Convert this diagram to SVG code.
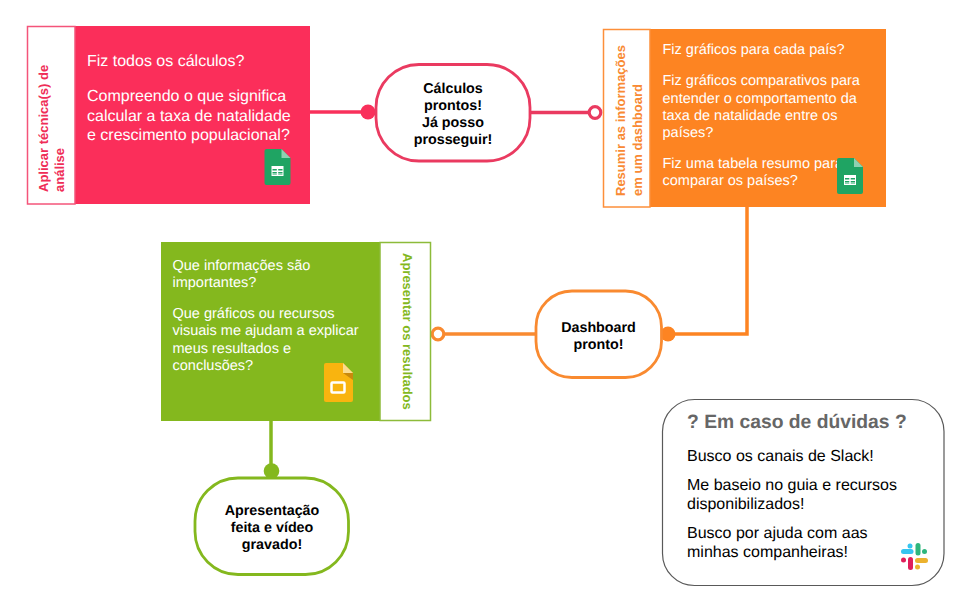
<svg xmlns="http://www.w3.org/2000/svg" width="978" height="608" viewBox="0 0 978 608">
<style>
text{font-family:"Liberation Sans",Arial,sans-serif;text-rendering:geometricPrecision}
.w16{font-size:16px;fill:#fff}
.w14{font-size:14.500px;fill:#fff}
.pill{font-size:14.300px;font-weight:bold;fill:#000;text-anchor:middle}
.side{font-size:13px;font-weight:bold}
.d{font-size:16px;fill:#000}
.line{fill:none;stroke-width:3.500}
</style>
<defs>
<g id="sheets">
<path d="M2 0H17L26 9V34a2 2 0 0 1-2 2H2a2 2 0 0 1-2-2V2a2 2 0 0 1 2-2Z" fill="#1fa463"/>
<path d="M17 0L26 9H17Z" fill="#8ed1b1"/>
<path d="M7 17H19V27H7Z" fill="#fff"/>
<path d="M8 20H12.300V21.500H8ZM13.700 20H18V21.500H13.700ZM8 23H12.300V24.500H8ZM13.700 23H18V24.500H13.700ZM8 25.500H12.300V26H8ZM13.700 25.500H18V26H13.700Z" fill="#1fa463"/>
</g>
</defs>
<rect width="978" height="608" fill="#fff"/>
<g id="connectors">
<path class="line" d="M310 112H376" stroke="#f9305b"/>
<path class="line" d="M530 112.500H595" stroke="#ea3a60"/>
<path class="line" d="M747 207V334H662" stroke="#fd8422"/>
<path class="line" d="M536 334H438" stroke="#f98a30"/>
<path class="line" d="M271 421V471" stroke="#84b81e"/>
<circle cx="368" cy="112" r="7.500" fill="#f9305b"/>
<circle cx="595" cy="112.500" r="5.800" fill="#fff" stroke="#ea3a60" stroke-width="3.200"/>
<circle cx="668" cy="334" r="7.500" fill="#fd8422"/>
<circle cx="438" cy="334" r="5.800" fill="#fff" stroke="#f98a30" stroke-width="3.200"/>
<circle cx="271.500" cy="471" r="7.800" fill="#84b81e"/>
</g>
<g id="node-analise">
<rect x="75" y="26" width="235" height="178" fill="#fb2e5a"/>
<rect x="27.500" y="26.500" width="47.500" height="177.500" fill="#fff" stroke="#f4547a" stroke-width="1.500"/>
<text class="side" fill="#ef2d57" transform="translate(48,192) rotate(-90)">Aplicar técnica(s) de</text>
<text class="side" fill="#ef2d57" transform="translate(64,192) rotate(-90)">análise</text>
<text class="w16" x="87" y="66">Fiz todos os cálculos?</text>
<text class="w16" x="87" y="101">Compreendo o que significa</text>
<text class="w16" x="87" y="121">calcular a taxa de natalidade</text>
<text class="w16" x="87" y="140">e crescimento populacional?</text>
<use href="#sheets" x="264.500" y="149"/>
</g>
<g id="node-calculos">
<rect x="376" y="64.500" width="154" height="96.500" rx="43" fill="#fff" stroke="#ea3a60" stroke-width="2.800"/>
<text class="pill" x="453" y="93">Cálculos</text>
<text class="pill" x="453" y="110">prontos!</text>
<text class="pill" x="453" y="127">Já posso</text>
<text class="pill" x="453" y="144">prosseguir!</text>
</g>
<g id="node-dashboard">
<rect x="650" y="29" width="236" height="178" fill="#fd8422"/>
<rect x="603.500" y="29.500" width="46.500" height="177.500" fill="#fff" stroke="#fd8f3a" stroke-width="1.500"/>
<text class="side" fill="#f98a34" transform="translate(625,196) rotate(-90)">Resumir as informações</text>
<text class="side" fill="#f98a34" transform="translate(642,196) rotate(-90)">em um dashboard</text>
<text class="w14" x="662.500" y="54">Fiz gráficos para cada país?</text>
<text class="w14" x="662.500" y="85">Fiz gráficos comparativos para</text>
<text class="w14" x="662.500" y="102.500">entender o comportamento da</text>
<text class="w14" x="662.500" y="120">taxa de natalidade entre os</text>
<text class="w14" x="662.500" y="137">países?</text>
<text class="w14" x="662.500" y="168">Fiz uma tabela resumo para</text>
<text class="w14" x="662.500" y="185">comparar os países?</text>
<use href="#sheets" x="837" y="158"/>
</g>
<g id="node-pronto">
<rect x="536" y="291" width="125.500" height="86.500" rx="36" fill="#fff" stroke="#f98a30" stroke-width="2.800"/>
<text class="pill" x="598.500" y="332">Dashboard</text>
<text class="pill" x="598.500" y="349">pronto!</text>
</g>
<g id="node-apresentar">
<rect x="161" y="242" width="219" height="179" fill="#84b81e"/>
<rect x="380" y="242.500" width="50.500" height="178" fill="#fff" stroke="#8dbb3a" stroke-width="1.500"/>
<text class="side" fill="#84b81e" transform="translate(402.500,253) rotate(90)">Apresentar os resultados</text>
<text class="w14" x="172.500" y="270">Que informações são</text>
<text class="w14" x="172.500" y="287">importantes?</text>
<text class="w14" x="172.500" y="318">Que gráficos ou recursos</text>
<text class="w14" x="172.500" y="335">visuais me ajudam a explicar</text>
<text class="w14" x="172.500" y="353">meus resultados e</text>
<text class="w14" x="172.500" y="370">conclusões?</text>
<path d="M326 363H343L353 373V400a2 2 0 0 1-2 2H326a2 2 0 0 1-2-2V365a2 2 0 0 1 2-2Z" fill="#f9b40f"/>
<path d="M343 363L353 373H343Z" fill="#fbdc8e"/>
<path d="M343 373H353V380Z" fill="#c98a0c"/>
<rect x="331.500" y="382.500" width="13" height="10" rx="1" fill="none" stroke="#fff" stroke-width="2.500"/>
</g>
<g id="node-video">
<rect x="195" y="478" width="153.500" height="96.500" rx="43" fill="#fff" stroke="#84b81e" stroke-width="2.800"/>
<text class="pill" x="272" y="515">Apresentação</text>
<text class="pill" x="272" y="532">feita e vídeo</text>
<text class="pill" x="272" y="549">gravado!</text>
</g>
<g id="node-duvidas">
<rect x="662.500" y="399.500" width="281.500" height="186" rx="32" fill="#fff" stroke="#595959" stroke-width="1.200"/>
<text x="687" y="428" font-size="19.300" font-weight="bold" fill="#666">? Em caso de dúvidas ?</text>
<text class="d" x="687" y="461">Busco os canais de Slack!</text>
<text class="d" x="687" y="490">Me baseio no guia e recursos</text>
<text class="d" x="687" y="509">disponibilizados!</text>
<text class="d" x="687" y="538">Busco por ajuda com aas</text>
<text class="d" x="687" y="557">minhas companheiras!</text>
<g id="slack-logo" stroke-width="5" stroke-linecap="round" fill="none">
<path d="M903.500 551.500H911" stroke="#36c5f0"/><path d="M910 546V546.100" stroke="#36c5f0"/>
<path d="M918 545.500V553" stroke="#2eb67d"/><path d="M924.500 551.500V551.600" stroke="#2eb67d"/>
<path d="M917.500 560.500H925.500" stroke="#ecb22e"/><path d="M917.500 567V567.100" stroke="#ecb22e"/>
<path d="M910.500 559.500V567.500" stroke="#e01e5a"/><path d="M903.500 560V560.100" stroke="#e01e5a"/>
</g>
</g>
</svg>
